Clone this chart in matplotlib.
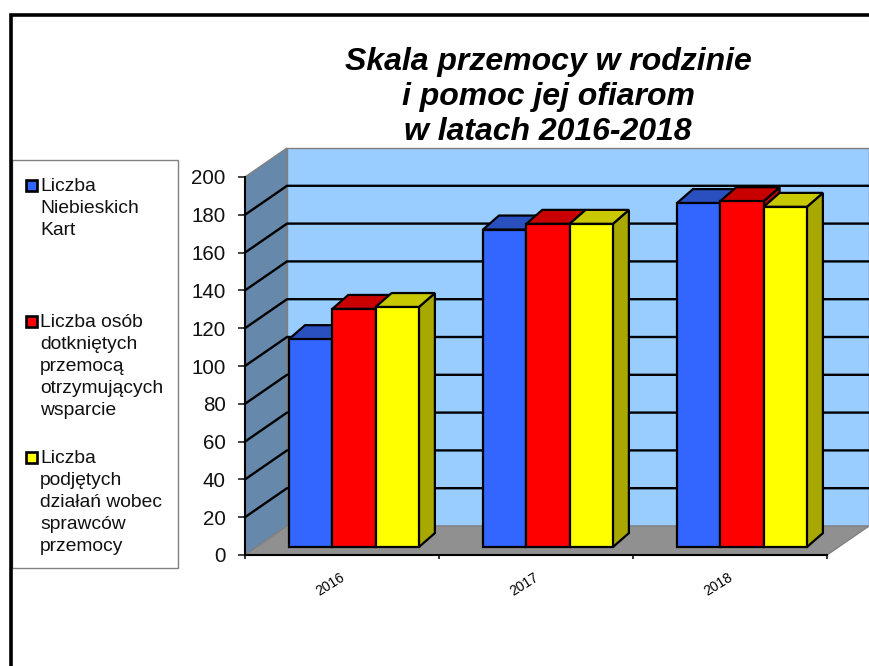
import matplotlib
matplotlib.use("Agg")
import matplotlib.pyplot as plt
from matplotlib.patches import Polygon, Rectangle

plt.rcParams['font.family'] = ['Liberation Sans', 'DejaVu Sans']

years = ['2016', '2017', '2018']
series_names = ['Liczba\nNiebieskich\nKart',
                'Liczba osób\ndotkniętych\nprzemocą\notrzymujących\nwsparcie',
                'Liczba\npodjętych\ndziałań wobec\nsprawców\nprzemocy']
niebieskie = [110, 168, 182]
wsparcie = [126, 171, 183]
dzialania = [127, 171, 180]
title = 'Skala przemocy w rodzinie\ni pomoc jej ofiarom\nw latach 2016-2018'
yticks = list(range(0, 201, 20))

W, H = 869, 666
fig = plt.figure(figsize=(W/100, H/100), dpi=100)
fig.patch.set_facecolor('white')

# chrome overlay in pixel units
ov = fig.add_axes([0, 0, 1, 1], zorder=0)
ov.set_xlim(0, W); ov.set_ylim(H, 0); ov.axis('off')
ov.plot([11, 11, W], [H, 15, 15], color='black', lw=2.6, solid_joinstyle='miter')
ov.add_patch(Rectangle((12, 160), 166, 408, fc='white', ec='#808080', lw=1))
ov.text(548, 97, title, ha='center', va='center', fontsize=23.0, fontweight='bold',
        fontstyle='italic', linespacing=1.2)

cols = ['#3366FF', '#FF0000', '#FFFF00']
tops = ['#2A50C0', '#C80000', '#C8C800']
sides = ['#2A50C0', '#C00000', '#A8A800']
leg_y = [178, 314, 450]
for name, c, y in zip(series_names, cols, leg_y):
    ov.add_patch(Rectangle((26, y + 2), 10.5, 10.5, fc=c, ec='black', lw=1.9))
    ov.text(40, y, name, ha='left', va='top', fontsize=13.9, linespacing=1.39,
            color='#111111')

# plotting axes: front plane of the 3-D box
L, R, T, B = 245, 827, 177, 555
ax = fig.add_axes([L/W, 1 - B/H, (R-L)/W, (B-T)/H], zorder=1)
ax.set_xlim(0, 3); ax.set_ylim(0, 200)
ax.patch.set_alpha(0)
DX, DY = 42/194, 29/1.89

ax.add_patch(Polygon([(DX, DY), (3+DX, DY), (3+DX, 200+DY), (DX, 200+DY)],
                     fc='#99CCFF', ec='#808080', lw=1, clip_on=False, zorder=1))
ax.add_patch(Polygon([(0, 0), (DX, DY), (DX, 200+DY), (0, 200)],
                     fc='#6688AA', ec='#808080', lw=1, clip_on=False, zorder=1))
ax.add_patch(Polygon([(0, 0), (DX, DY), (3+DX, DY), (3, 0)],
                     fc='#909090', ec='#808080', lw=1, clip_on=False, zorder=1))
for v in yticks[1:-1]:
    ax.plot([0, DX, 3+DX], [v, v+DY, v+DY], color='black', lw=1.7, clip_on=False, zorder=2)

bar_x0, bar_w, bar_base = 44/194, 43.3/194, 4.2
bd_x, bd_y = 16/194, 7.4
data = [niebieskie, wsparcie, dzialania]
for i in range(len(years)):
    for s, vals in enumerate(data):
        x0 = i + bar_x0 + s*bar_w
        x1 = x0 + bar_w
        v = bar_base + vals[i]
        kw = dict(ec='black', lw=1.6, joinstyle='miter', clip_on=False, zorder=3)
        ax.add_patch(Polygon([(x1, bar_base), (x1+bd_x, bar_base+bd_y), (x1+bd_x, v+bd_y), (x1, v)],
                             fc=sides[s], **kw))
        ax.add_patch(Polygon([(x0, v), (x1, v), (x1+bd_x, v+bd_y), (x0+bd_x, v+bd_y)],
                             fc=tops[s], **kw))
        ax.add_patch(Rectangle((x0, bar_base), bar_w, vals[i], fc=cols[s], **kw))

for sp in ['top', 'right']:
    ax.spines[sp].set_visible(False)
for sp in ['left', 'bottom']:
    ax.spines[sp].set_linewidth(1.5)
    ax.spines[sp].set_zorder(4)
ax.set_yticks(yticks)
ax.tick_params(axis='y', length=5, width=1.1, labelsize=14.8, pad=9, colors='#111111')
ax.set_xticks([0, 1, 2, 3])
ax.set_xticklabels([])
ax.tick_params(axis='x', which='major', length=3, width=1.1)
ax.set_xticks([0.44, 1.44, 2.44], minor=True)
ax.set_xticklabels(years, minor=True, rotation=32, fontsize=10, ha='center', va='center')
ax.tick_params(axis='x', which='minor', length=0, pad=21)

fig.savefig('out.png', dpi=100)
